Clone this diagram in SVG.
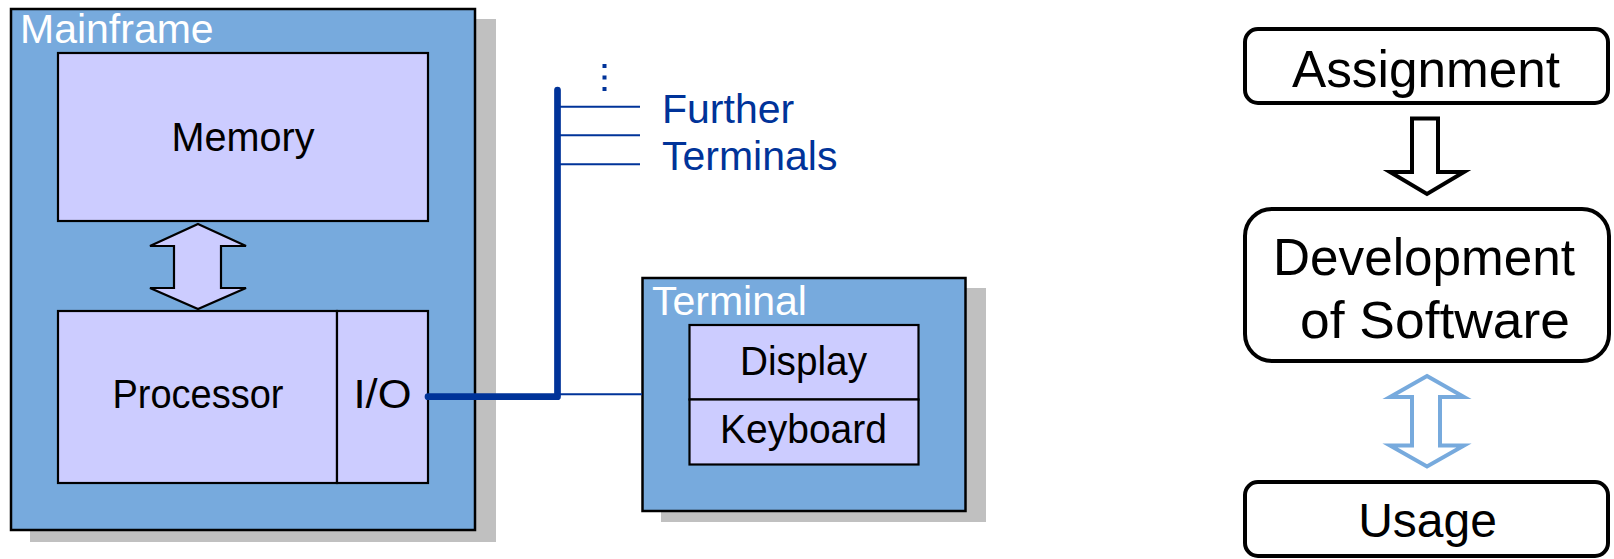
<svg xmlns="http://www.w3.org/2000/svg" width="1614" height="559" viewBox="0 0 1614 559">
  <style>
    .shadow { fill: #c0c0c0; }
    .frame { fill: #77aadd; stroke: #000; stroke-width: 2.5; }
    .unit { fill: #ccccff; stroke: #000; stroke-width: 2.2; }
    .step { fill: #fff; stroke: #000; stroke-width: 4; }
    .title { font-family: "Liberation Sans", Arial, sans-serif; font-size: 41px; fill: #fff; }
    .label { font-family: "Liberation Sans", Arial, sans-serif; font-size: 41px; fill: #000; text-anchor: middle; }
    .big { font-family: "Liberation Sans", Arial, sans-serif; font-size: 52px; fill: #000; text-anchor: middle; }
    .note { font-family: "Liberation Sans", Arial, sans-serif; font-size: 41px; fill: #003399; }
    .bus { fill: none; stroke: #003399; }
  </style>

  <!-- Mainframe -->
  <g id="mainframe">
    <rect class="shadow" x="30" y="19" width="466" height="523"/>
    <rect class="frame" x="11" y="9" width="464" height="521"/>
    <text class="title" x="20" y="43">Mainframe</text>
  </g>

  <g id="memory">
    <rect class="unit" x="58" y="53" width="370" height="168"/>
    <text class="label" x="243" y="151" textLength="143" lengthAdjust="spacingAndGlyphs">Memory</text>
  </g>

  <g id="processor">
    <rect class="unit" x="58" y="311" width="279" height="172"/>
    <text class="label" x="198" y="408" textLength="171" lengthAdjust="spacingAndGlyphs">Processor</text>
  </g>

  <g id="io">
    <rect class="unit" x="337" y="311" width="91" height="172"/>
    <text class="label" x="382.5" y="408" textLength="58" lengthAdjust="spacingAndGlyphs">I/O</text>
  </g>

  <!-- Terminal -->
  <g id="terminal">
    <rect class="shadow" x="661" y="288" width="325" height="234"/>
    <rect class="frame" x="642.5" y="278" width="323" height="233"/>
    <text class="title" x="652" y="315">Terminal</text>
  </g>

  <g id="display">
    <rect class="unit" x="689.5" y="325" width="229" height="74.5"/>
    <text class="label" x="803.5" y="375" textLength="127" lengthAdjust="spacingAndGlyphs">Display</text>
  </g>

  <g id="keyboard">
    <rect class="unit" x="689.5" y="399.5" width="229" height="65"/>
    <text class="label" x="803.5" y="443" textLength="167" lengthAdjust="spacingAndGlyphs">Keyboard</text>
  </g>

  <g id="further-terminals">
    <text class="note" x="662" y="123">Further</text>
    <text class="note" x="662" y="170">Terminals</text>
  </g>

  <!-- Development process -->
  <g id="assignment">
    <rect class="step" x="1245" y="29" width="363" height="74" rx="13"/>
    <text class="big" x="1426" y="87" textLength="268" lengthAdjust="spacingAndGlyphs">Assignment</text>
  </g>

  <g id="development">
    <rect class="step" x="1245" y="209" width="364" height="152" rx="27"/>
    <text class="big" x="1424" y="275" textLength="302" lengthAdjust="spacingAndGlyphs">Development</text>
    <text class="big" x="1435" y="338" textLength="270" lengthAdjust="spacingAndGlyphs">of Software</text>
  </g>

  <g id="usage">
    <rect class="step" x="1245" y="482" width="363" height="74" rx="13"/>
    <text class="big" x="1427.5" y="537" style="font-size:48px">Usage</text>
  </g>

  <!-- Connectors -->
  <g id="connectors">
    <!-- memory <-> processor -->
    <path d="M198,224 L246,246 L221,246 L221,288 L246,288 L198,309 L150,288 L174,288 L174,246 L150,246 Z"
          fill="#ccccff" stroke="#000" stroke-width="2.2" stroke-linejoin="miter"/>

    <!-- system bus -->
    <path class="bus" d="M428,396.7 H557.5 V90" stroke-width="6.7" stroke-linecap="round" stroke-linejoin="round"/>
    <path class="bus" d="M557,106.7 H640 M557,135.3 H640 M557,164.3 H640 M557,394.3 H642" stroke-width="2"/>
    <path class="bus" d="M604.5,64 V91" stroke-width="4" stroke-dasharray="4 7.5"/>

    <!-- assignment -> development -->
    <path d="M1412,118.5 H1438 V172 H1464 L1427,194 L1390,172 H1412 Z"
          fill="#fff" stroke="#000" stroke-width="4" stroke-linejoin="miter"/>

    <!-- development <-> usage -->
    <path d="M1427,376 L1464,397 H1440 V445.5 H1464 L1427,466.5 L1390,445.5 H1412 V397 H1390 Z"
          fill="#fff" stroke="#77aadd" stroke-width="4" stroke-linejoin="miter"/>
  </g>
</svg>
